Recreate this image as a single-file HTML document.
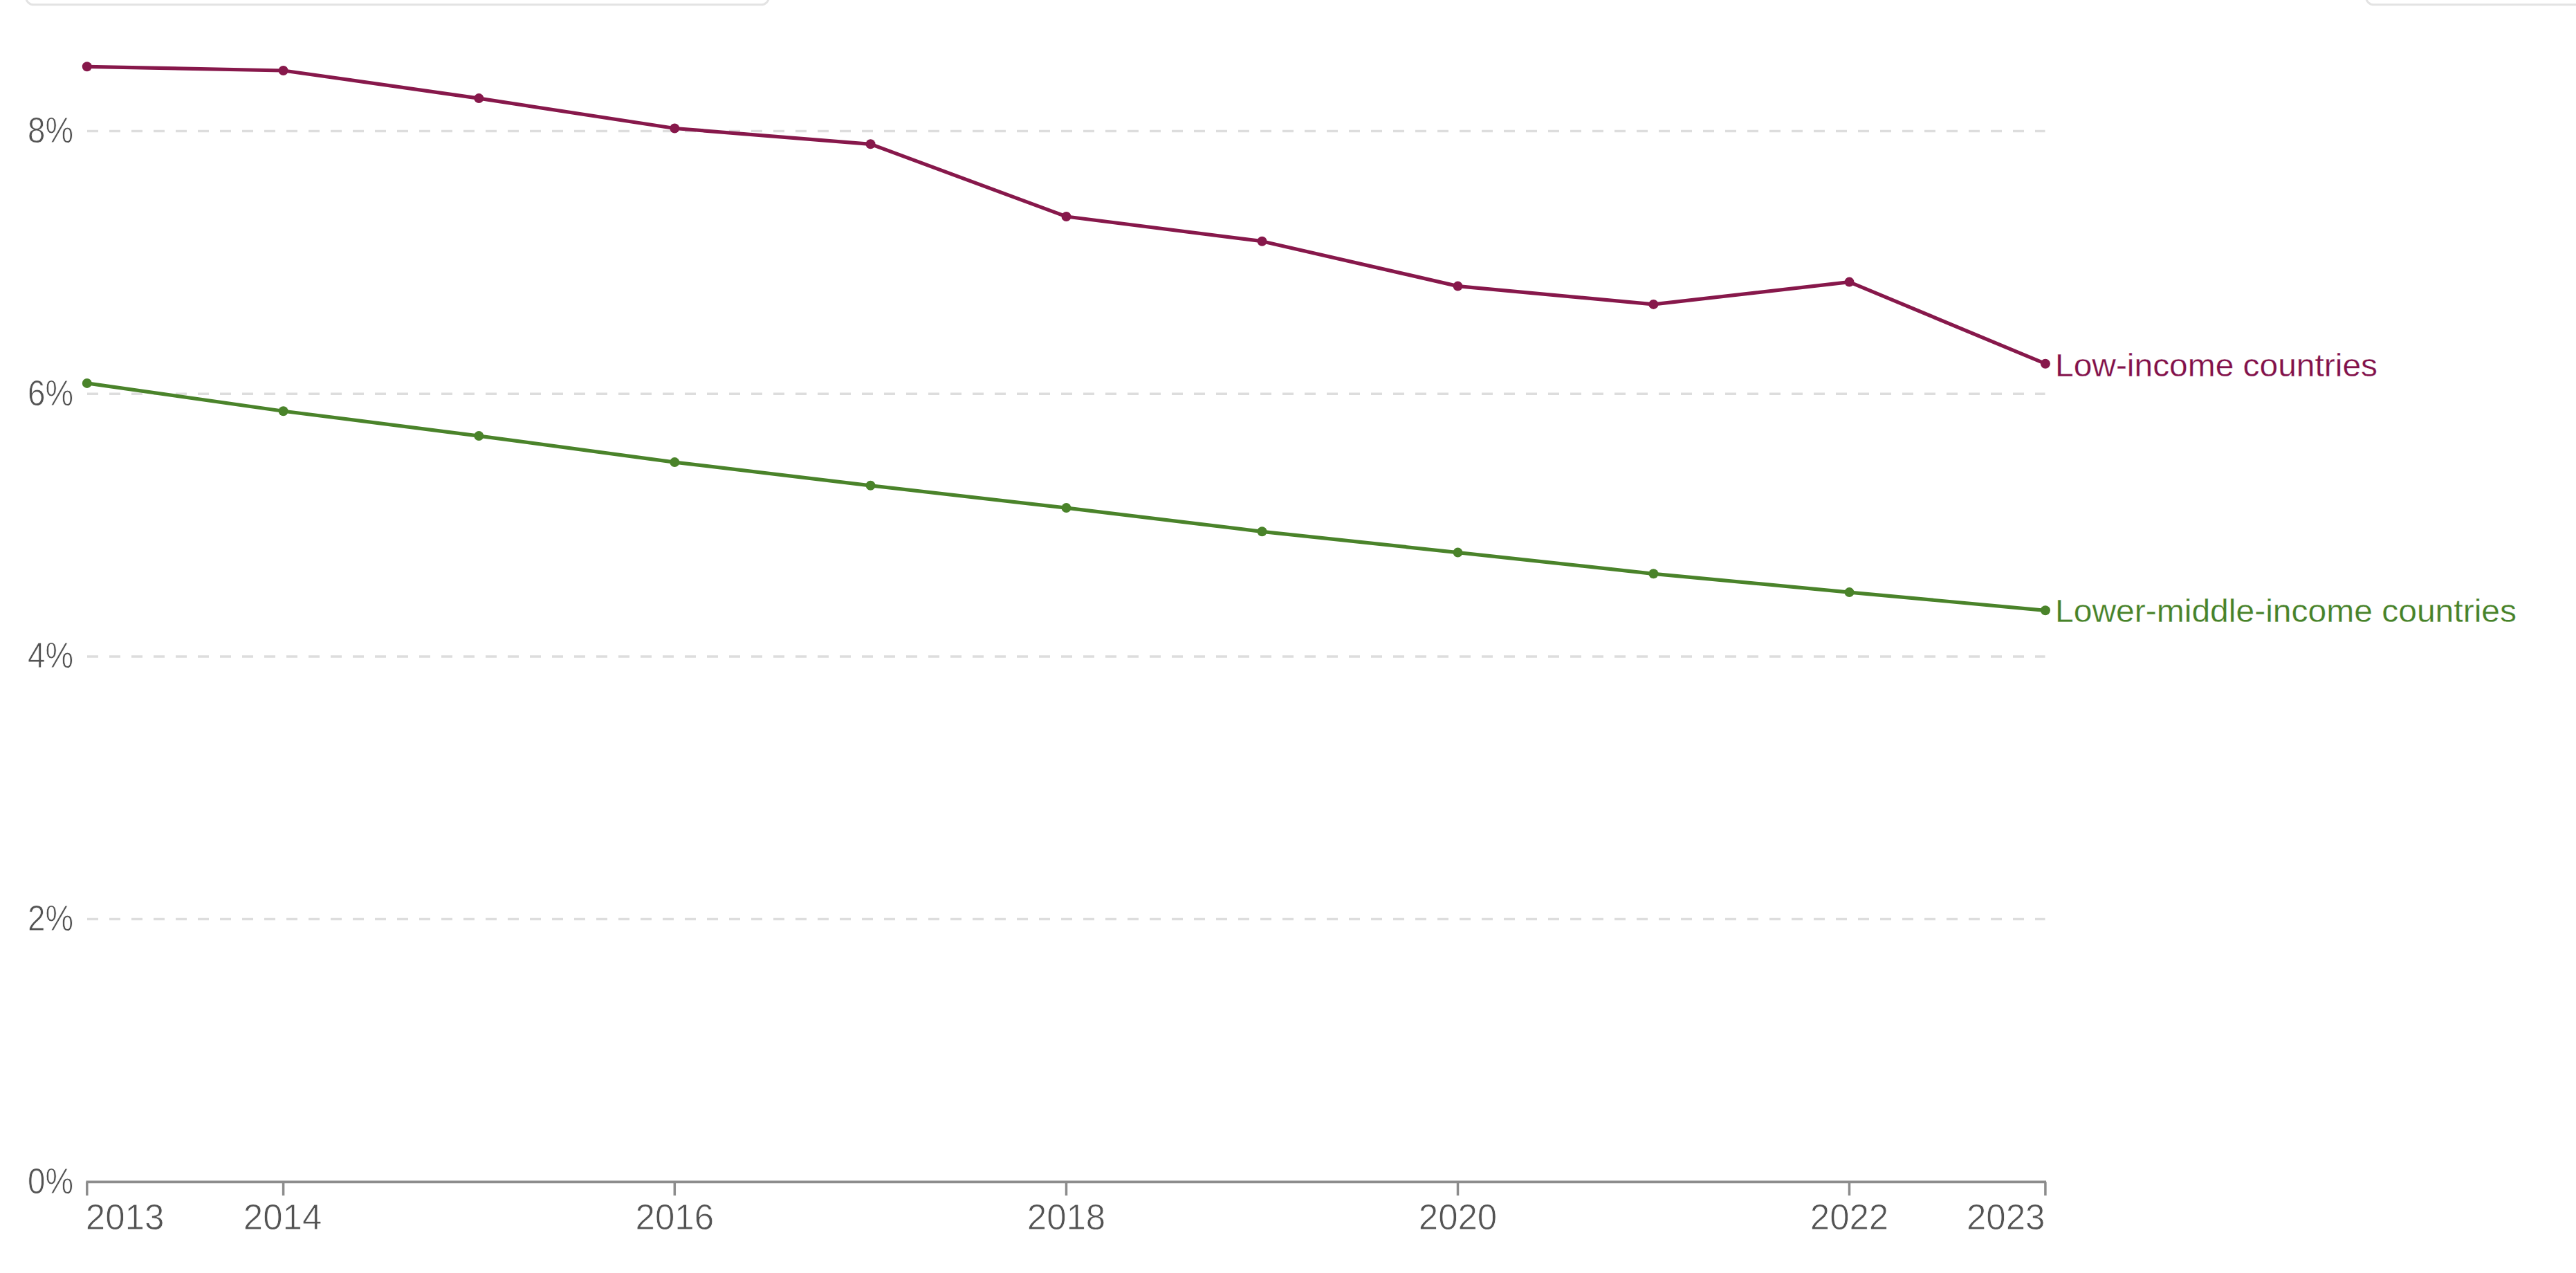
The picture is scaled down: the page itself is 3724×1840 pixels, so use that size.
<!DOCTYPE html>
<html><head><meta charset="utf-8">
<style>
html,body{margin:0;padding:0;background:#fff;width:3724px;height:1840px;overflow:hidden;}
svg{display:block;}
.ax{font-family:"Liberation Sans",sans-serif;font-size:51px;fill:#535353;stroke:#fff;stroke-width:0.8px;}
.lab{font-family:"Liberation Sans",sans-serif;font-size:47px;stroke:#fff;stroke-width:0.3px;}
</style></head>
<body>
<svg width="3724" height="1840" viewBox="0 0 3724 1840">
<rect x="37.5" y="-40" width="1074" height="46.8" rx="11" ry="11" fill="none" stroke="#e3e3e3" stroke-width="3"/>
<rect x="3420.5" y="-40" width="400" height="46.8" rx="11" ry="11" fill="none" stroke="#e3e3e3" stroke-width="3"/>
<line x1="126" y1="189.6" x2="2956.5" y2="189.6" stroke="#dddddd" stroke-width="3.5" stroke-dasharray="16,16"/>
<line x1="126" y1="569.2" x2="2956.5" y2="569.2" stroke="#dddddd" stroke-width="3.5" stroke-dasharray="16,16"/>
<line x1="126" y1="948.9" x2="2956.5" y2="948.9" stroke="#dddddd" stroke-width="3.5" stroke-dasharray="16,16"/>
<line x1="126" y1="1328.6" x2="2956.5" y2="1328.6" stroke="#dddddd" stroke-width="3.5" stroke-dasharray="16,16"/>
<text x="40" y="206.1" class="ax" textLength="66" lengthAdjust="spacingAndGlyphs">8%</text>
<text x="40" y="585.7" class="ax" textLength="66" lengthAdjust="spacingAndGlyphs">6%</text>
<text x="40" y="965.4" class="ax" textLength="66" lengthAdjust="spacingAndGlyphs">4%</text>
<text x="40" y="1345.1" class="ax" textLength="66" lengthAdjust="spacingAndGlyphs">2%</text>
<text x="40" y="1724.8" class="ax" textLength="66" lengthAdjust="spacingAndGlyphs">0%</text>
<line x1="124.5" y1="1708.3" x2="2958" y2="1708.3" stroke="#8c8c8c" stroke-width="3.8"/>
<line x1="125.8" y1="1708.3" x2="125.8" y2="1728" stroke="#8c8c8c" stroke-width="3.5"/>
<text x="123.8" y="1776.5" text-anchor="start" class="ax">2013</text>
<line x1="409.6" y1="1708.3" x2="409.6" y2="1728" stroke="#8c8c8c" stroke-width="3.5"/>
<text x="408.6" y="1776.5" text-anchor="middle" class="ax">2014</text>
<line x1="975.3" y1="1708.3" x2="975.3" y2="1728" stroke="#8c8c8c" stroke-width="3.5"/>
<text x="975.3" y="1776.5" text-anchor="middle" class="ax">2016</text>
<line x1="1541.5" y1="1708.3" x2="1541.5" y2="1728" stroke="#8c8c8c" stroke-width="3.5"/>
<text x="1541.5" y="1776.5" text-anchor="middle" class="ax">2018</text>
<line x1="2107.5" y1="1708.3" x2="2107.5" y2="1728" stroke="#8c8c8c" stroke-width="3.5"/>
<text x="2107.5" y="1776.5" text-anchor="middle" class="ax">2020</text>
<line x1="2673.5" y1="1708.3" x2="2673.5" y2="1728" stroke="#8c8c8c" stroke-width="3.5"/>
<text x="2673.5" y="1776.5" text-anchor="middle" class="ax">2022</text>
<line x1="2956.9" y1="1708.3" x2="2956.9" y2="1728" stroke="#8c8c8c" stroke-width="3.5"/>
<text x="2956.4" y="1776.5" text-anchor="end" class="ax">2023</text>
<polyline points="125.8,96.3 409.6,102.0 692.3,142.1 975.3,185.5 1258.5,208.3 1541.5,313.0 1824.5,348.7 2107.5,413.6 2390.4,439.9 2673.5,407.6 2956.9,525.7" fill="none" stroke="#87184b" stroke-width="5.2" stroke-linejoin="round" stroke-linecap="round"/>
<circle cx="125.8" cy="96.3" r="7" fill="#87184b"/>
<circle cx="409.6" cy="102.0" r="7" fill="#87184b"/>
<circle cx="692.3" cy="142.1" r="7" fill="#87184b"/>
<circle cx="975.3" cy="185.5" r="7" fill="#87184b"/>
<circle cx="1258.5" cy="208.3" r="7" fill="#87184b"/>
<circle cx="1541.5" cy="313.0" r="7" fill="#87184b"/>
<circle cx="1824.5" cy="348.7" r="7" fill="#87184b"/>
<circle cx="2107.5" cy="413.6" r="7" fill="#87184b"/>
<circle cx="2390.4" cy="439.9" r="7" fill="#87184b"/>
<circle cx="2673.5" cy="407.6" r="7" fill="#87184b"/>
<circle cx="2956.9" cy="525.7" r="7" fill="#87184b"/>
<polyline points="125.8,553.9 409.6,594.2 692.3,630.1 975.3,668.1 1258.5,701.8 1541.5,734.1 1824.5,768.3 2107.5,798.6 2390.4,829.3 2673.5,856.1 2956.9,882.3" fill="none" stroke="#4a832a" stroke-width="5.2" stroke-linejoin="round" stroke-linecap="round"/>
<circle cx="125.8" cy="553.9" r="7" fill="#4a832a"/>
<circle cx="409.6" cy="594.2" r="7" fill="#4a832a"/>
<circle cx="692.3" cy="630.1" r="7" fill="#4a832a"/>
<circle cx="975.3" cy="668.1" r="7" fill="#4a832a"/>
<circle cx="1258.5" cy="701.8" r="7" fill="#4a832a"/>
<circle cx="1541.5" cy="734.1" r="7" fill="#4a832a"/>
<circle cx="1824.5" cy="768.3" r="7" fill="#4a832a"/>
<circle cx="2107.5" cy="798.6" r="7" fill="#4a832a"/>
<circle cx="2390.4" cy="829.3" r="7" fill="#4a832a"/>
<circle cx="2673.5" cy="856.1" r="7" fill="#4a832a"/>
<circle cx="2956.9" cy="882.3" r="7" fill="#4a832a"/>
<text x="2971" y="544" class="lab" fill="#82114a" textLength="466" lengthAdjust="spacingAndGlyphs">Low-income countries</text>
<text x="2971" y="899" class="lab" fill="#478229" textLength="667" lengthAdjust="spacingAndGlyphs">Lower-middle-income countries</text>
</svg>
</body></html>
